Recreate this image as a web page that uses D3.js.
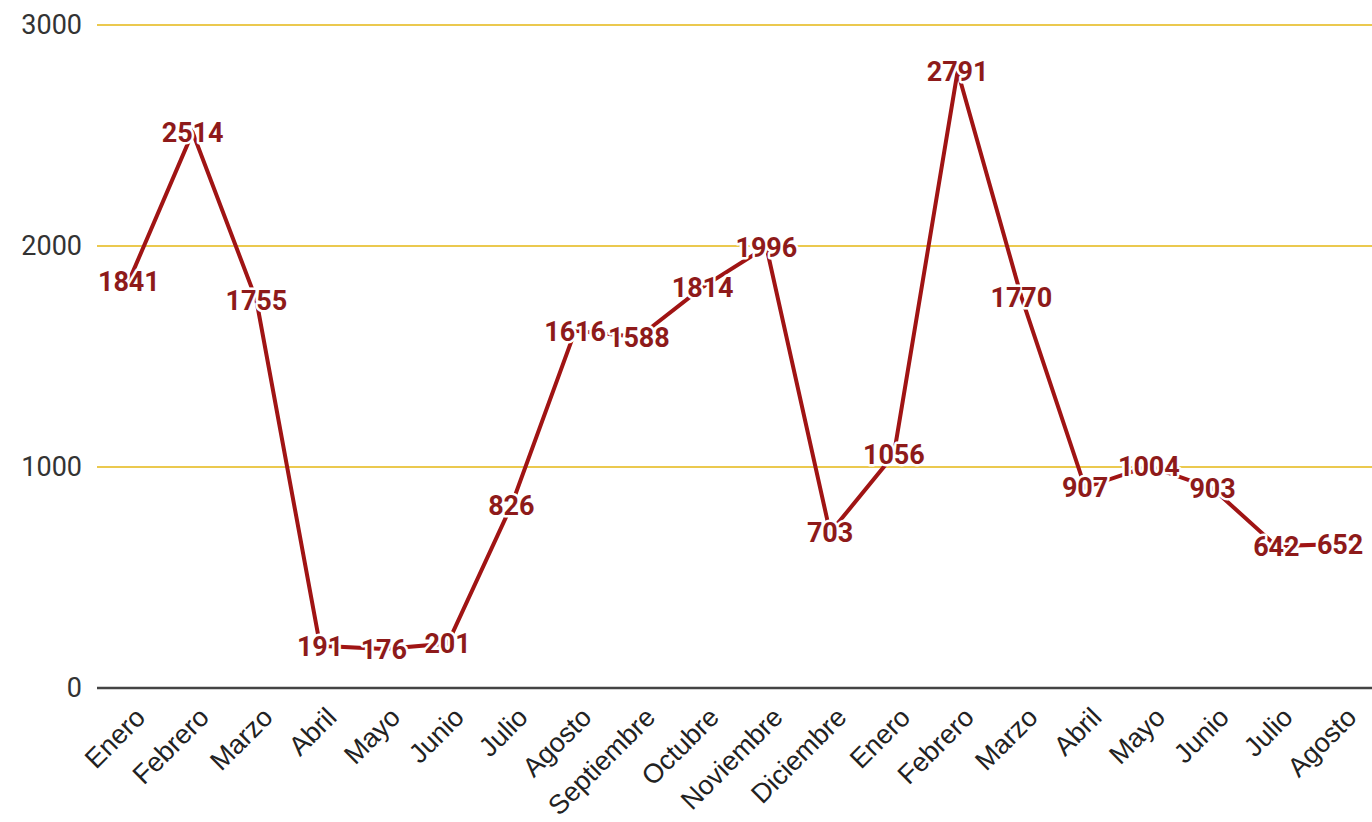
<!DOCTYPE html>
<html>
<head>
<meta charset="utf-8">
<script src="https://cdn.jsdelivr.net/npm/d3@7"></script>
<style>
  html, body { margin: 0; padding: 0; background: #fff; }
  svg { display: block; }
</style>
</head>
<body>
<svg id="chart" width="1372" height="822"></svg>
<script>
const months = ["Enero","Febrero","Marzo","Abril","Mayo","Junio","Julio","Agosto","Septiembre","Octubre","Noviembre","Diciembre","Enero","Febrero","Marzo","Abril","Mayo","Junio","Julio","Agosto"];
const values = [1841, 2514, 1755, 191, 176, 201, 826, 1616, 1588, 1814, 1996, 703, 1056, 2791, 1770, 907, 1004, 903, 642, 652];
const yTicks = [0, 1000, 2000, 3000];

(function () {
const svg = d3.select("#chart");
const mLeft = 97, mRight = 1372, mTop = 25, mBottom = 688;

const idx = d3.range(values.length);
const x = d3.scaleBand().domain(idx).range([mLeft, mRight]).padding(0);
const cx = i => x(i) + x.bandwidth() / 2;
const y = d3.scaleLinear().domain([0, 3000]).range([mBottom, mTop]);

// gridlines
svg.append("g").selectAll("line").data(yTicks.filter(d => d > 0)).join("line")
  .attr("x1", mLeft).attr("x2", mRight)
  .attr("y1", d => y(d)).attr("y2", d => y(d))
  .attr("stroke", "#ebc94f").attr("stroke-width", 2);

// baseline
svg.append("line").attr("x1", mLeft).attr("x2", mRight)
  .attr("y1", y(0)).attr("y2", y(0))
  .attr("stroke", "#444").attr("stroke-width", 2.5);

// y tick labels
svg.append("g").selectAll("text").data(yTicks).join("text")
  .attr("x", 82).attr("y", d => y(d))
  .attr("dy", "0.35em")
  .attr("text-anchor", "end")
  .attr("font-family", "Roboto, 'Liberation Sans', Arial, sans-serif")
  .attr("font-size", 27)
  .attr("fill", "#333")
  .text(d => d);

// x labels
svg.append("g").selectAll("text").data(idx).join("text")
  .attr("text-anchor", "end")
  .attr("transform", i => `translate(${cx(i) + 18},${mBottom + 31}) rotate(-45)`)
  .attr("font-family", "'Liberation Sans', Arial, sans-serif")
  .attr("font-size", 27)
  .attr("fill", "#222")
  .text(i => months[i]);

// line
const line = d3.line().x((d, i) => cx(i)).y(d => y(d));
svg.append("path").datum(values)
  .attr("d", line)
  .attr("fill", "none")
  .attr("stroke", "#a01414")
  .attr("stroke-width", 4)
  .attr("stroke-linejoin", "miter");

// data labels
svg.append("g").selectAll("text").data(values).join("text")
  .attr("x", (d, i) => cx(i)).attr("y", d => y(d))
  .attr("dy", "0.36em")
  .attr("text-anchor", "middle")
  .attr("font-family", "Roboto, 'Liberation Sans', Arial, sans-serif")
  .attr("font-weight", "bold")
  .attr("font-size", 27)
  .attr("fill", "#8e1a1a")
  .attr("stroke", "#fff")
  .attr("stroke-width", 5)
  .attr("paint-order", "stroke")
  .attr("stroke-linejoin", "round")
  .text(d => d);
})();
</script>
</body>
</html>
